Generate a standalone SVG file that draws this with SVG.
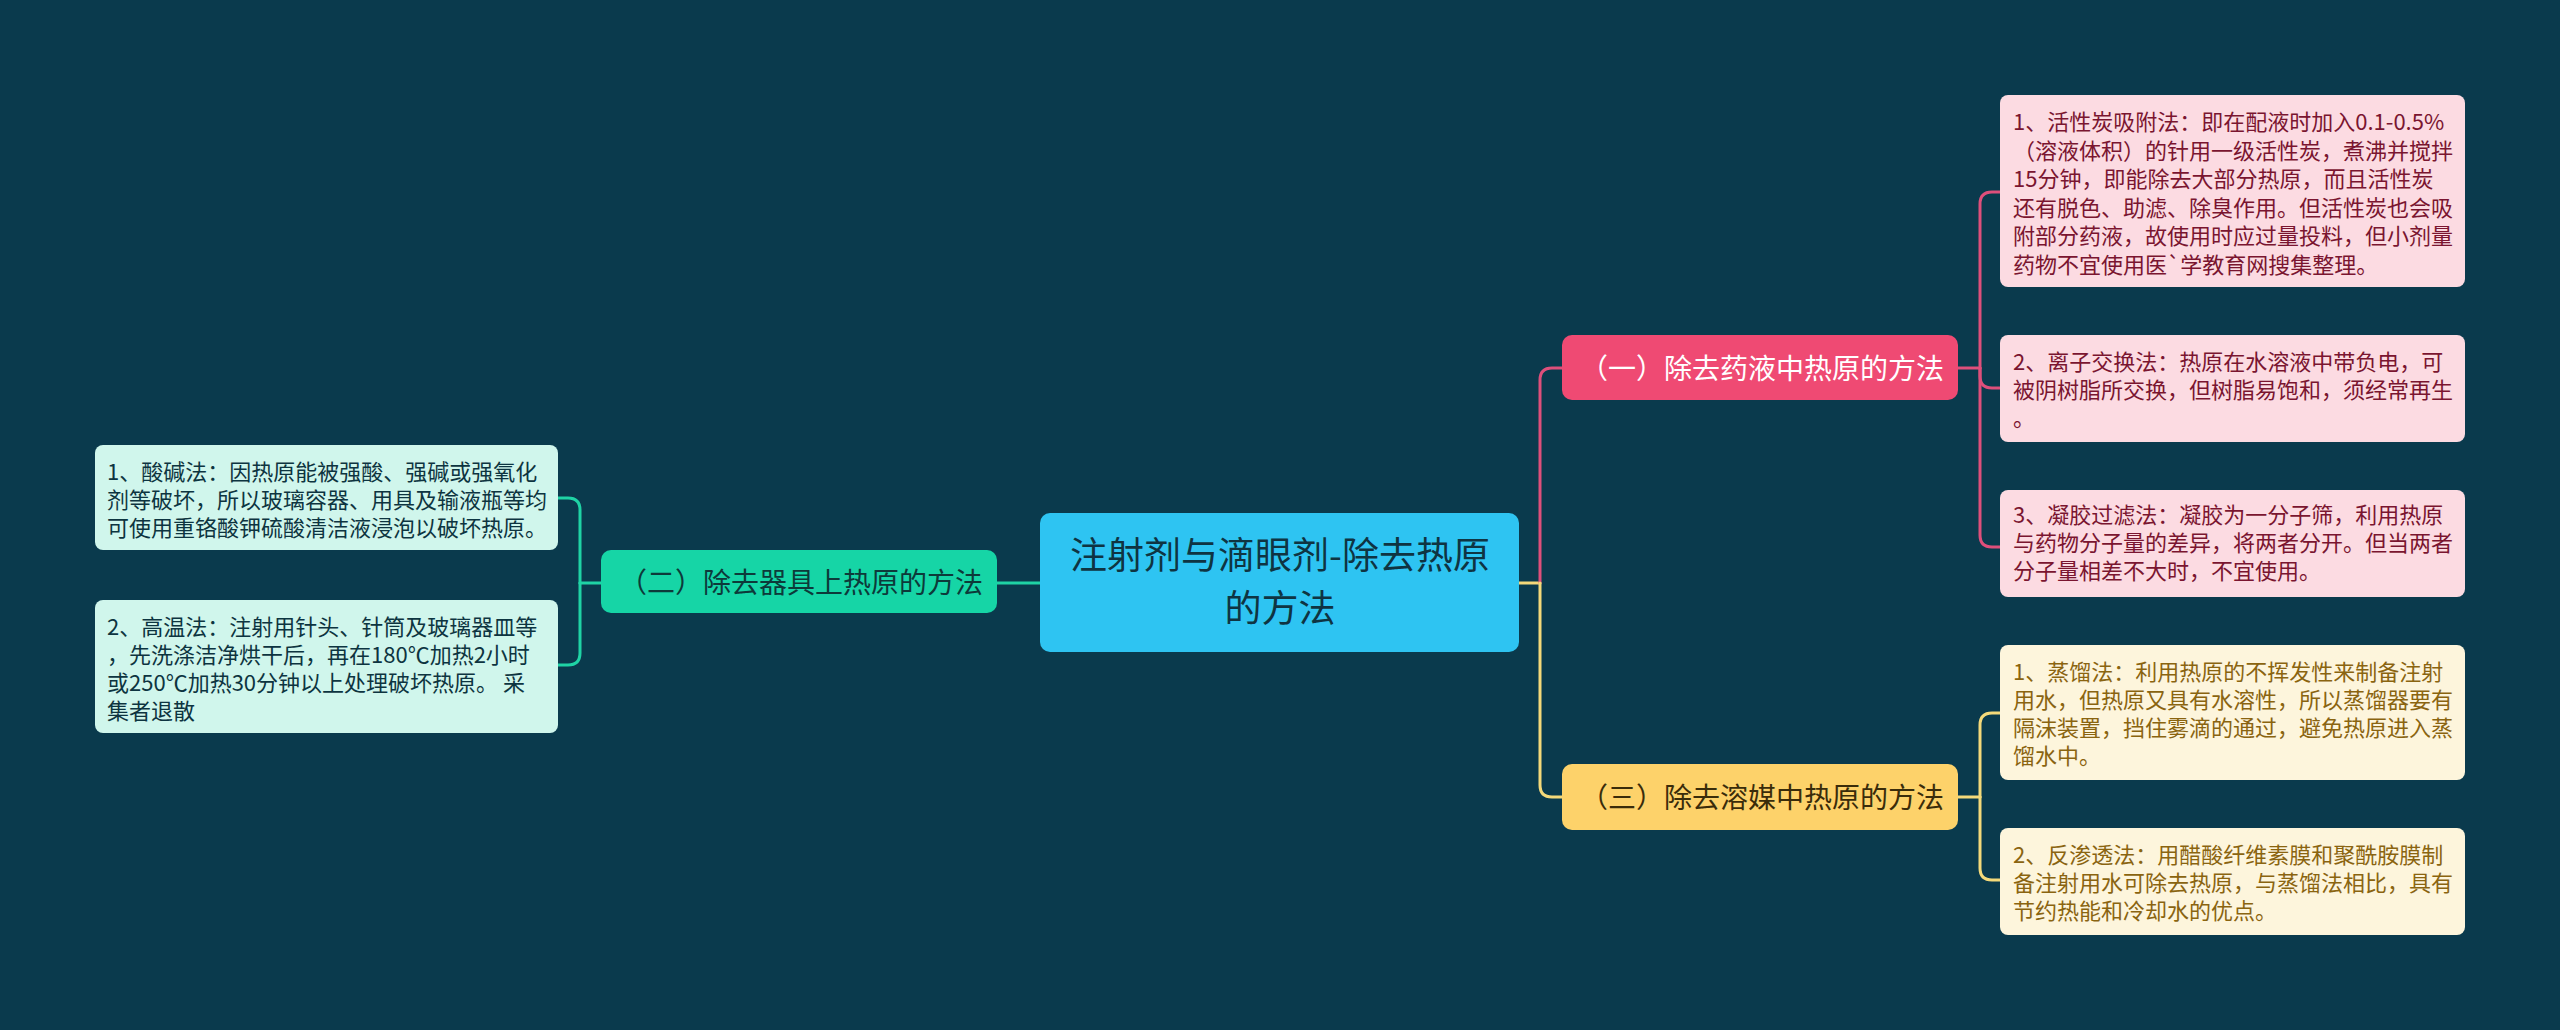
<svg xmlns="http://www.w3.org/2000/svg" width="2560" height="1030" viewBox="0 0 2560 1030">
<style>
text{font-family:"Noto Sans CJK SC","Noto Sans",sans-serif;}
.c{fill:none;stroke-width:3;stroke-linecap:round;stroke-linejoin:round;}
.cp{stroke:#de4f7b;}
.cy{stroke:#f4d97a;}
.cg{stroke:#1fd3a5;}
.t22{font-size:22px;}
.pinkc{fill:#fcdbe2;}
.yelc{fill:#fdf5dc;}
.grnc{fill:#d0f6ec;}
.tp{fill:#7a1530;}
.ty{fill:#8a6410;}
.tg{fill:#0d3440;}
</style>
<rect x="0" y="0" width="2560" height="1030" fill="#0a3a4d"/>
<g id="connectors">
<path class="c cg" d="M1040,583 H997"/>
<path class="c cy" d="M1519,583 H1540"/>
<path class="c cp" d="M1540,583 V380 Q1540,368 1552,368 H1562"/>
<path class="c cy" d="M1540,583 V785 Q1540,797 1552,797 H1562"/>
<path class="c cp" d="M1958,368 H1980"/>
<path class="c cp" d="M1980,368 V204 Q1980,192 1992,192 H2000"/>
<path class="c cp" d="M1980,368 V376 Q1980,388 1992,388 H2000"/>
<path class="c cp" d="M1980,368 V535 Q1980,547 1992,547 H2000"/>
<path class="c cy" d="M1958,797 H1980"/>
<path class="c cy" d="M1980,797 V725 Q1980,713 1992,713 H2000"/>
<path class="c cy" d="M1980,797 V868 Q1980,880 1992,880 H2000"/>
<path class="c cg" d="M601,583 H580"/>
<path class="c cg" d="M580,583 V510 Q580,498 568,498 H558"/>
<path class="c cg" d="M580,583 V653 Q580,665 568,665 H558"/>
</g>
<g id="root">
<rect x="1040" y="513" width="479" height="139" rx="10" fill="#2ec4f2"/>
<text x="1280" y="569" font-size="37" fill="#0f3442" text-anchor="middle">注射剂与滴眼剂-除去热原</text>
<text x="1280" y="622" font-size="37" fill="#0f3442" text-anchor="middle">的方法</text>
</g>
<g id="branch1">
<rect x="1562" y="335" width="396" height="65" rx="10" fill="#ef4a73"/>
<text x="1762" y="379" font-size="28" fill="#ffffff" text-anchor="middle">（一）除去药液中热原的方法</text>
</g>
<g id="branch2">
<rect x="601" y="550" width="396" height="63" rx="10" fill="#16d5a6"/>
<text x="801" y="593" font-size="28" fill="#0d3a3a" text-anchor="middle">（二）除去器具上热原的方法</text>
</g>
<g id="branch3">
<rect x="1562" y="764" width="396" height="66" rx="10" fill="#fdd26a"/>
<text x="1762" y="808" font-size="28" fill="#3a2c0a" text-anchor="middle">（三）除去溶媒中热原的方法</text>
</g>
<g id="b1c1">
<rect class="pinkc" x="2000" y="95" width="465" height="192" rx="8"/>
<text class="t22 tp" x="2013"><tspan x="2013" y="130">1、活性炭吸附法：即在配液时加入0.1-0.5%</tspan><tspan x="2013" y="158.5">（溶液体积）的针用一级活性炭，煮沸并搅拌</tspan><tspan x="2013" y="187">15分钟，即能除去大部分热原，而且活性炭</tspan><tspan x="2013" y="215.5">还有脱色、助滤、除臭作用。但活性炭也会吸</tspan><tspan x="2013" y="244">附部分药液，故使用时应过量投料，但小剂量</tspan><tspan x="2013" y="272.5">药物不宜使用医`学教育网搜集整理。</tspan></text>
</g>
<g id="b1c2">
<rect class="pinkc" x="2000" y="335" width="465" height="107" rx="8"/>
<text class="t22 tp" x="2013"><tspan x="2013" y="370">2、离子交换法：热原在水溶液中带负电，可</tspan><tspan x="2013" y="398">被阴树脂所交换，但树脂易饱和，须经常再生</tspan><tspan x="2013" y="426">。</tspan></text>
</g>
<g id="b1c3">
<rect class="pinkc" x="2000" y="490" width="465" height="107" rx="8"/>
<text class="t22 tp" x="2013"><tspan x="2013" y="523">3、凝胶过滤法：凝胶为一分子筛，利用热原</tspan><tspan x="2013" y="551">与药物分子量的差异，将两者分开。但当两者</tspan><tspan x="2013" y="579">分子量相差不大时，不宜使用。</tspan></text>
</g>
<g id="b3c1">
<rect class="yelc" x="2000" y="645" width="465" height="135" rx="8"/>
<text class="t22 ty" x="2013"><tspan x="2013" y="680">1、蒸馏法：利用热原的不挥发性来制备注射</tspan><tspan x="2013" y="708">用水，但热原又具有水溶性，所以蒸馏器要有</tspan><tspan x="2013" y="736">隔沫装置，挡住雾滴的通过，避免热原进入蒸</tspan><tspan x="2013" y="764">馏水中。</tspan></text>
</g>
<g id="b3c2">
<rect class="yelc" x="2000" y="828" width="465" height="107" rx="8"/>
<text class="t22 ty" x="2013"><tspan x="2013" y="863">2、反渗透法：用醋酸纤维素膜和聚酰胺膜制</tspan><tspan x="2013" y="891">备注射用水可除去热原，与蒸馏法相比，具有</tspan><tspan x="2013" y="919">节约热能和冷却水的优点。</tspan></text>
</g>
<g id="b2c1">
<rect class="grnc" x="95" y="445" width="463" height="105" rx="8"/>
<text class="t22 tg" x="107"><tspan x="107" y="480">1、酸碱法：因热原能被强酸、强碱或强氧化</tspan><tspan x="107" y="508">剂等破坏，所以玻璃容器、用具及输液瓶等均</tspan><tspan x="107" y="536">可使用重铬酸钾硫酸清洁液浸泡以破坏热原。</tspan></text>
</g>
<g id="b2c2">
<rect class="grnc" x="95" y="600" width="463" height="133" rx="8"/>
<text class="t22 tg" x="107"><tspan x="107" y="635">2、高温法：注射用针头、针筒及玻璃器皿等</tspan><tspan x="107" y="663">，先洗涤洁净烘干后，再在180℃加热2小时</tspan><tspan x="107" y="691">或250℃加热30分钟以上处理破坏热原。 采</tspan><tspan x="107" y="719">集者退散</tspan></text>
</g>
</svg>
